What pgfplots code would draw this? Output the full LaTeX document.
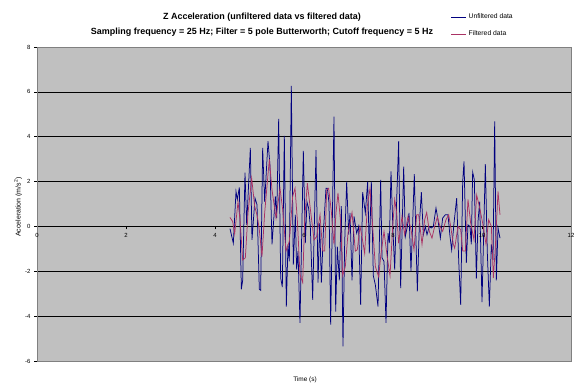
\documentclass[border=0pt]{standalone}
\usepackage{pgfplots}
\pgfplotsset{compat=1.18}
\usepackage{fontspec}
\setmainfont{Liberation Sans}
\definecolor{plotbg}{RGB}{192,192,192}
\definecolor{unf}{RGB}{0,0,128}
\definecolor{filt}{RGB}{170,50,100}
\begin{document}
\begin{tikzpicture}
\path[use as bounding box] (0,0) rectangle (575bp,388bp);
\node[font=\fontsize{9}{11}\selectfont\bfseries] at (262bp,371bp) {Z Acceleration (unfiltered data vs filtered data)};
\node[font=\fontsize{9}{11}\selectfont\bfseries] at (262bp,356bp) {Sampling frequency = 25 Hz; Filter = 5 pole Butterworth; Cutoff frequency = 5 Hz};
\begin{axis}[
  at={(37bp,27bp)}, anchor=south west,
  scale only axis, width=534bp, height=314bp,
  xmin=0, xmax=12, ymin=-6, ymax=8,
  axis x line=middle, axis y line=left,
  axis line style={-, black, line width=0.6bp},
  hide obscured x ticks=false, hide obscured y ticks=false,
  xtick={0,2,...,12}, ytick={-6,-4,...,8},
  xticklabels={},
  tick align=outside, major tick length=3bp,
  tick style={black, line width=0.5bp},
  ymajorgrids, grid style={black, line width=0.6bp},
  axis background/.style={fill=plotbg},
  /pgf/number format/assume math mode=true,
  ticklabel style={font=\fontsize{6}{7}\selectfont},
  clip=false,
  legend style={at={(0.773,1.115)}, anchor=north west, draw=none, fill=white,
    font=\fontsize{6.8}{8}\selectfont, row sep=6.5bp, inner sep=1bp},
  legend cell align=left,
  legend image post style={xscale=0.88},
]
\addplot[unf, line width=0.75bp] coordinates {
(4.337,-0.1)(4.412,-0.75)(4.472,1.56)(4.502,1.2)(4.547,1.74)(4.592,-2.8)(4.622,-2.4)
(4.674,2.4)(4.712,0.07)(4.794,3.5)(4.831,-0.6)(4.899,1.26)(4.944,0.97)(4.996,-2.8)
(5.026,-2.85)(5.071,3.5)(5.116,1.1)(5.191,3.8)(5.236,2.7)(5.281,-0.8)(5.356,1.34)
(5.386,0.37)(5.431,4.8)(5.476,-2.3)(5.513,-2.7)(5.558,4.04)(5.603,-3.57)(5.640,-0.8)
(5.670,-1.56)(5.715,6.27)(5.760,-1.7)(5.805,0.52)(5.835,-1.93)(5.865,-1.1)(5.910,-4.3)
(5.985,3.37)(6.030,-0.74)(6.067,1.1)(6.105,0.8)(6.142,0)(6.195,-3.27)(6.270,3.4)
(6.315,-2.5)(6.352,0.15)(6.390,-2.5)(6.434,-0.3)(6.494,1.7)(6.524,1.7)(6.562,1.05)
(6.599,-4.38)(6.674,4.9)(6.712,-3.8)(6.749,-0.9)(6.794,-2.4)(6.839,0.9)(6.876,-5.35)
(6.914,-0.74)(6.959,2.0)(7.004,-0.37)(7.034,0.6)(7.079,-2.4)(7.124,0.45)(7.184,-0.3)
(7.228,0)(7.273,-3.5)(7.318,1.53)(7.378,0.6)(7.431,2.0)(7.468,-1.2)(7.513,2.0)
(7.558,-2.2)(7.603,-2.6)(7.663,-3.57)(7.723,2.08)(7.753,-1.4)(7.798,-1.56)(7.843,-4.3)
(7.888,-0.3)(7.918,-0.74)(7.955,2.45)(8.000,-0.22)(8.038,-1.93)(8.083,1.2)(8.127,3.8)
(8.172,-2.75)(8.240,2.67)(8.277,-0.45)(8.322,0)(8.360,0.6)(8.404,-2.0)(8.442,0.15)
(8.479,2.33)(8.517,-0.67)(8.547,-2.9)(8.592,0.07)(8.637,1.53)(8.682,-0.37)(8.727,0)
(8.764,-0.37)(8.816,0)(8.861,-0.07)(8.906,0)(8.966,0.82)(9.011,0.3)(9.064,-0.52)
(9.116,0.37)(9.176,0.52)(9.236,0.52)(9.281,-0.45)(9.318,-1.04)(9.371,0.15)(9.431,1.26)
(9.476,-1.5)(9.521,-3.5)(9.566,2.0)(9.596,2.9)(9.648,-1.63)(9.685,0.07)(9.730,0)
(9.760,-0.8)(9.790,2.42)(9.828,2.08)(9.873,-2.33)(9.910,0.22)(9.948,1.1)(10.000,-3.37)
(10.075,2.78)(10.120,-1.2)(10.165,-3.57)(10.210,-0.8)(10.247,-1.5)(10.285,4.68)
(10.322,-2.4)(10.360,-0.07)(10.404,-0.52)
};
\addlegendentry{Unfiltered data}
\addplot[filt, line width=0.75bp] coordinates {
(4.337,0.4)(4.397,0.22)(4.442,-0.33)(4.517,1.1)(4.562,0.3)(4.622,-1.5)(4.682,-1.4)
(4.742,0.6)(4.824,2.15)(4.891,0.9)(4.951,0.45)(4.996,-0.15)(5.056,-1.34)(5.116,0.6)
(5.221,3.0)(5.281,1.63)(5.371,0.37)(5.461,1.7)(5.521,0.75)(5.596,-1.1)(5.670,-0.67)
(5.745,1.34)(5.798,1.7)(5.850,0.3)(5.910,-2.15)(5.970,-2.5)(6.015,0.3)(6.075,1.93)
(6.135,0.9)(6.225,-0.6)(6.285,-0.45)(6.360,0.52)(6.420,-1.1)(6.465,-1.1)(6.510,1.63)
(6.554,1.7)(6.614,0.67)(6.674,-0.8)(6.719,0.6)(6.764,1.49)(6.824,0.15)(6.869,-2.2)
(6.929,-1.78)(6.989,-0.3)(7.079,0.62)(7.154,-1.1)(7.198,-1.04)(7.258,0)(7.303,-0.45)
(7.363,-1.2)(7.423,0.9)(7.483,1.7)(7.543,0)(7.603,-1.78)(7.678,-2.25)(7.723,-1.34)
(7.798,-0.22)(7.873,-1.4)(7.933,-2.2)(7.993,0)(8.038,1.2)(8.083,0.6)(8.127,-0.75)
(8.202,0.45)(8.262,-0.37)(8.337,0.45)(8.412,-0.22)(8.472,-1.04)(8.532,0.52)(8.577,0.52)
(8.652,-0.8)(8.712,0.3)(8.757,0.62)(8.816,-0.22)(8.876,-0.52)(8.936,0)(8.996,0.42)
(9.056,0)(9.116,-0.22)(9.191,0.3)(9.251,0.52)(9.296,0)(9.356,-0.8)(9.386,-0.97)
(9.461,0)(9.521,-0.15)(9.566,-1.1)(9.626,-1.1)(9.685,1.2)(9.745,0.15)(9.820,-0.6)
(9.880,1.4)(9.940,0.9)(10.015,0.15)(10.090,-0.8)(10.150,0.3)(10.210,0)(10.255,-2.3)
(10.300,-0.9)(10.360,1.56)(10.404,0.52)
};
\addlegendentry{Filtered data}
\draw[gray, line width=0.6bp] (rel axis cs:0,0) rectangle (rel axis cs:1,1);
\node[font=\fontsize{6}{7}\selectfont, anchor=north, inner sep=1bp, yshift=-6bp] at (axis cs:0,0) {0};
\node[font=\fontsize{6}{7}\selectfont, anchor=north, inner sep=1bp, yshift=-6bp] at (axis cs:2,0) {2};
\node[font=\fontsize{6}{7}\selectfont, anchor=north, inner sep=1bp, yshift=-6bp] at (axis cs:4,0) {4};
\node[font=\fontsize{6}{7}\selectfont, anchor=north, inner sep=1bp, yshift=-6bp] at (axis cs:6,0) {6};
\node[font=\fontsize{6}{7}\selectfont, anchor=north, inner sep=1bp, yshift=-6bp] at (axis cs:8,0) {8};
\node[font=\fontsize{6}{7}\selectfont, anchor=north, inner sep=1bp, yshift=-6bp] at (axis cs:10,0) {10};
\node[font=\fontsize{6}{7}\selectfont, anchor=north, inner sep=1bp, yshift=-6bp] at (axis cs:12,0) {12};
\end{axis}
\node[font=\fontsize{6.5}{8}\selectfont] at (305bp,8bp) {Time (s)};
\node[font=\fontsize{7}{8}\selectfont, rotate=90] at (18bp,181bp) {Acceleration (m/s\textsuperscript{2})};
\end{tikzpicture}
\end{document}
